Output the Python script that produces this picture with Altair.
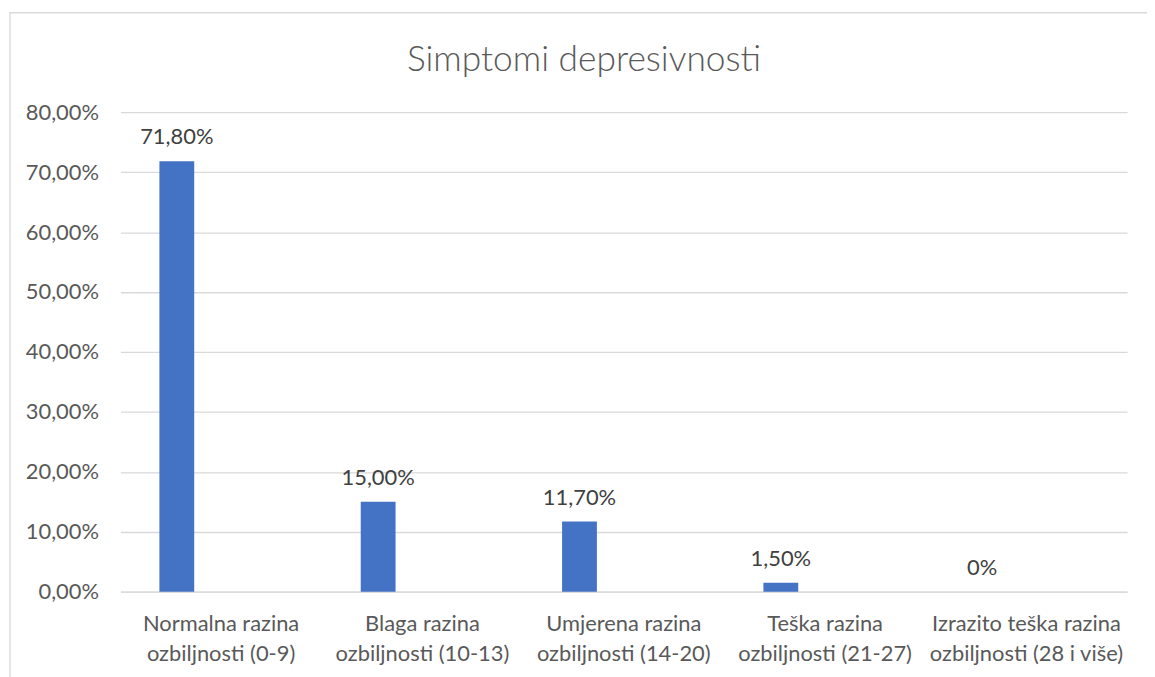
import altair as alt
import pandas as pd

categories = [
    "Normalna razina\nozbiljnosti (0-9)",
    "Blaga razina\nozbiljnosti (10-13)",
    "Umjerena razina\nozbiljnosti (14-20)",
    "Teška razina\nozbiljnosti (21-27)",
    "Izrazito teška razina\nozbiljnosti (28 i više)",
]
values = [0.718, 0.150, 0.117, 0.015, 0.0]
value_labels = ["71,80%", "15,00%", "11,70%", "1,50%", "0%"]
title_text = "Simptomi depresivnosti"

df = pd.DataFrame({"cat": categories, "val": values, "lab": value_labels})

FONT = "Lato"
GREY = "#595959"
FS = 22

x = alt.X(
    "cat:N",
    sort=categories,
    title=None,
    scale=alt.Scale(paddingInner=0, paddingOuter=0),
    axis=alt.Axis(
        labelExpr="split(datum.label, '\\n')",
        labelAngle=0,
        labelFontSize=FS,
        labelFont=FONT,
        labelColor=GREY,
        labelLineHeight=30,
        labelPadding=32,
        labelBaseline="middle",
        ticks=False,
        domainColor="#d9d9d9",
        domainWidth=1.3,
        labelLimit=300,
    ),
)
y = alt.Y(
    "val:Q",
    title=None,
    scale=alt.Scale(domain=[0, 0.8], nice=False),
    axis=alt.Axis(
        values=[0, 0.1, 0.2, 0.3, 0.4, 0.5, 0.6, 0.7, 0.8],
        labelExpr="replace(format(datum.value, '.2%'), '.', ',')",
        labelFontSize=FS,
        labelFont=FONT,
        labelColor=GREY,
        labelPadding=22,
        ticks=False,
        domain=False,
        gridColor="#d9d9d9",
        gridWidth=1.3,
    ),
)

bars = alt.Chart(df).mark_bar(color="#4472C4", width=35, xOffset=-44.5).encode(x=x, y=y)
text = alt.Chart(df).mark_text(
    xOffset=-44.5, dy=-24, fontSize=FS, font=FONT, color="#404040", baseline="middle"
).encode(x=x, y=y, text="lab:N")

deco = alt.Data(values=[{"t": title_text}])
border = alt.Chart(deco).mark_rect(
    fill=None, stroke="#d9d9d9", strokeWidth=1.3
).encode(
    x=alt.value(-111), x2=alt.value(1045), y=alt.value(-100), y2=alt.value(600)
)
title = alt.Chart(deco).mark_text(
    fontSize=35.5, font=FONT, fontWeight=300, color=GREY, align="center", baseline="middle"
).encode(x=alt.value(466), y=alt.value(-52), text="t:N")

chart = (
    alt.layer(border, bars, text, title)
    .properties(
        width=1012,
        height=482,
        autosize=alt.AutoSizeParams(type="none"),
        padding={"left": 113, "top": 103, "right": 20, "bottom": 85},
    )
    .configure_view(stroke=None)
)

chart.save("out.html", embed_options={"renderer": "svg", "actions": False})
